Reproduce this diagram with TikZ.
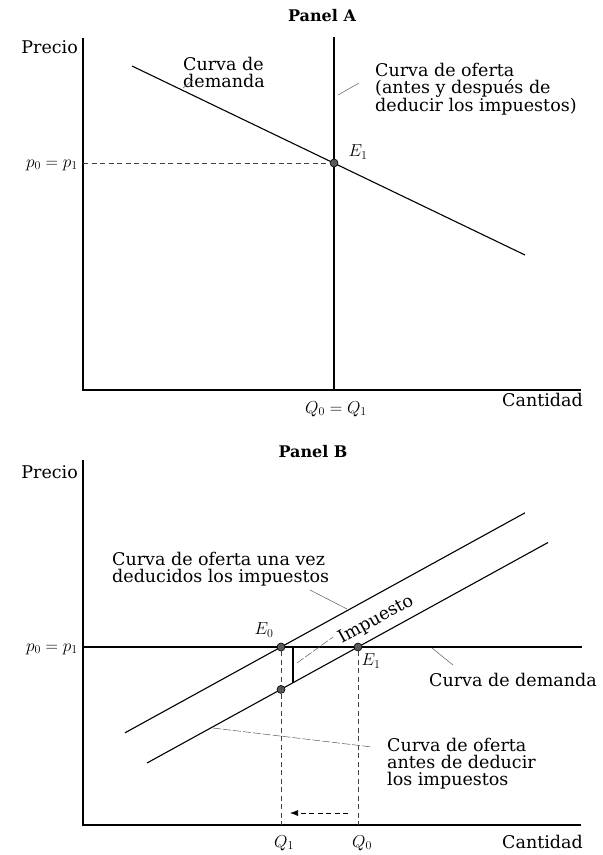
\documentclass[tikz,border=0pt]{standalone}
\usepackage{amsmath}
\usepackage{fontspec}
\setmainfont{DejaVu Serif}
\usepackage{tikz}
\usetikzlibrary{arrows.meta}

\begin{document}
\begin{tikzpicture}[x=1pt, y=-1pt, >=Latex,
    font=\fontsize{17.5}{17}\selectfont,
    ttl/.style={font=\fontsize{16}{17}\selectfont\bfseries},
    ax/.style={line width=1.4pt},
    cv/.style={line width=1.1pt},
    lead/.style={line width=0.5pt, black!65},
    dsh/.style={line width=0.7pt, black!75, dash pattern=on 5pt off 3.5pt},
    lbl/.style={inner sep=0pt, align=left},
    pt/.style={circle, draw=black, fill=black!65, line width=0.6pt, inner sep=0pt,
               minimum size=8pt}]
  \useasboundingbox (0,0) rectangle (603,855);

  % Panel A
  \node[ttl] (tA) at (322,16) {Panel A};
  \coordinate (A-top) at (83,38);
  \coordinate (A-o)   at (83,390);
  \coordinate (A-end) at (581,390);
  \coordinate (SA-1) at (334,37);
  \coordinate (DA-1) at (132,66);
  \coordinate (DA-2) at (525,255);
  \draw[ax] (A-top) -- (A-o) -- (A-end);
  \draw[cv] (SA-1) -- (SA-1 |- A-o);
  \draw[cv] (DA-1) -- (DA-2);
  \node[pt] (EA) at (334,163) {};
  \draw[dsh] (A-o |- EA) -- (EA);

  \node[lbl, anchor=east] (precA) at (78,47)  {Precio};
  \node[lbl, anchor=east] (pA)    at (78,165) {$p_0 = p_1$};
  \node[lbl, anchor=east] (cantA) at (583,400) {Cantidad};
  \node[lbl] (qA)  at (336,409) {$Q_0 = Q_1$};
  \node[lbl] (eA)  at (358,152) {$E_1$};
  \node[lbl, anchor=west] (demA) at (183,72) {Curva de\\demanda};
  \node[lbl, anchor=west] (supA) at (375,89)
    {Curva de oferta\\(antes y después de\\deducir los impuestos)};
  \coordinate (lA-1) at (183,88);  \coordinate (lA-2) at (193,80);
  \coordinate (lA-3) at (338,95);  \coordinate (lA-4) at (359,83);
  \draw[lead] (lA-1) -- (lA-2);
  \draw[lead] (lA-3) -- (lA-4);

  % Panel B
  \node[ttl] (tB) at (313,452) {Panel B};
  \coordinate (B-top) at (83,460);
  \coordinate (B-o)   at (83,825);
  \coordinate (B-end) at (581,825);
  \coordinate (DB-2) at (582,647);
  \coordinate (SU-1) at (125,732.8);
  \coordinate (SU-2) at (525,512.8);
  \coordinate (SL-1) at (147,763);
  \coordinate (SL-2) at (548,542.5);
  \draw[ax] (B-top) -- (B-o) -- (B-end);
  \draw[cv] (B-o |- DB-2) -- (DB-2);
  \draw[cv] (SU-1) -- (SU-2);
  \draw[cv] (SL-1) -- (SL-2);
  \node[pt] (E0) at (281,647) {};
  \node[pt] (E1) at (358,647) {};
  \node[pt] (F0) at (281,689.4) {};
  \foreach \p in {E0, E1} \draw[dsh] (\p) -- (\p |- B-o);
  \coordinate (T-1) at (293,648);
  \coordinate (T-2) at (293,682.8);
  \draw[cv] (T-1) -- (T-2);
  \coordinate (ar-1) at (348,813);
  \coordinate (ar-2) at (290,813);
  \draw[dsh, -{Latex[length=8pt, width=6pt]}, black] (ar-1) -- (ar-2);

  \node[lbl, anchor=east] (precB) at (78,472) {Precio};
  \node[lbl, anchor=east] (pB)    at (78,649) {$p_0 = p_1$};
  \node[lbl, anchor=east] (cantB) at (583,842) {Cantidad};
  \node[lbl] (q1) at (284,843) {$Q_1$};
  \node[lbl] (q0) at (362,843) {$Q_0$};
  \node[lbl] (e0) at (264,630) {$E_0$};
  \node[lbl] (e1) at (371,661) {$E_1$};
  \node[lbl, rotate=28.8] (imp) at (376,620) {Impuesto};
  \node[lbl, anchor=west] (supU) at (112,569)
    {Curva de oferta una vez\\deducidos los impuestos};
  \node[lbl, anchor=west] (demB) at (429,680) {Curva de demanda};
  \node[lbl, anchor=west] (supL) at (387,764)
    {Curva de oferta\\antes de deducir\\los impuestos};
  \coordinate (lB-1) at (310,590);  \coordinate (lB-2) at (347,609);
  \coordinate (lB-3) at (297,663);  \coordinate (lB-4) at (333,637);
  \coordinate (lB-5) at (213,728);  \coordinate (lB-6) at (372,747);
  \coordinate (lB-7) at (432,648);  \coordinate (lB-8) at (453,665);
  \draw[lead] (lB-1) -- (lB-2);
  \draw[lead, dash pattern=on 8pt off 2pt] (lB-3) -- (lB-4);
  \draw[lead, dash pattern=on 8pt off 2pt] (lB-5) -- (lB-6);
  \draw[lead] (lB-7) -- (lB-8);
\end{tikzpicture}
\end{document}
